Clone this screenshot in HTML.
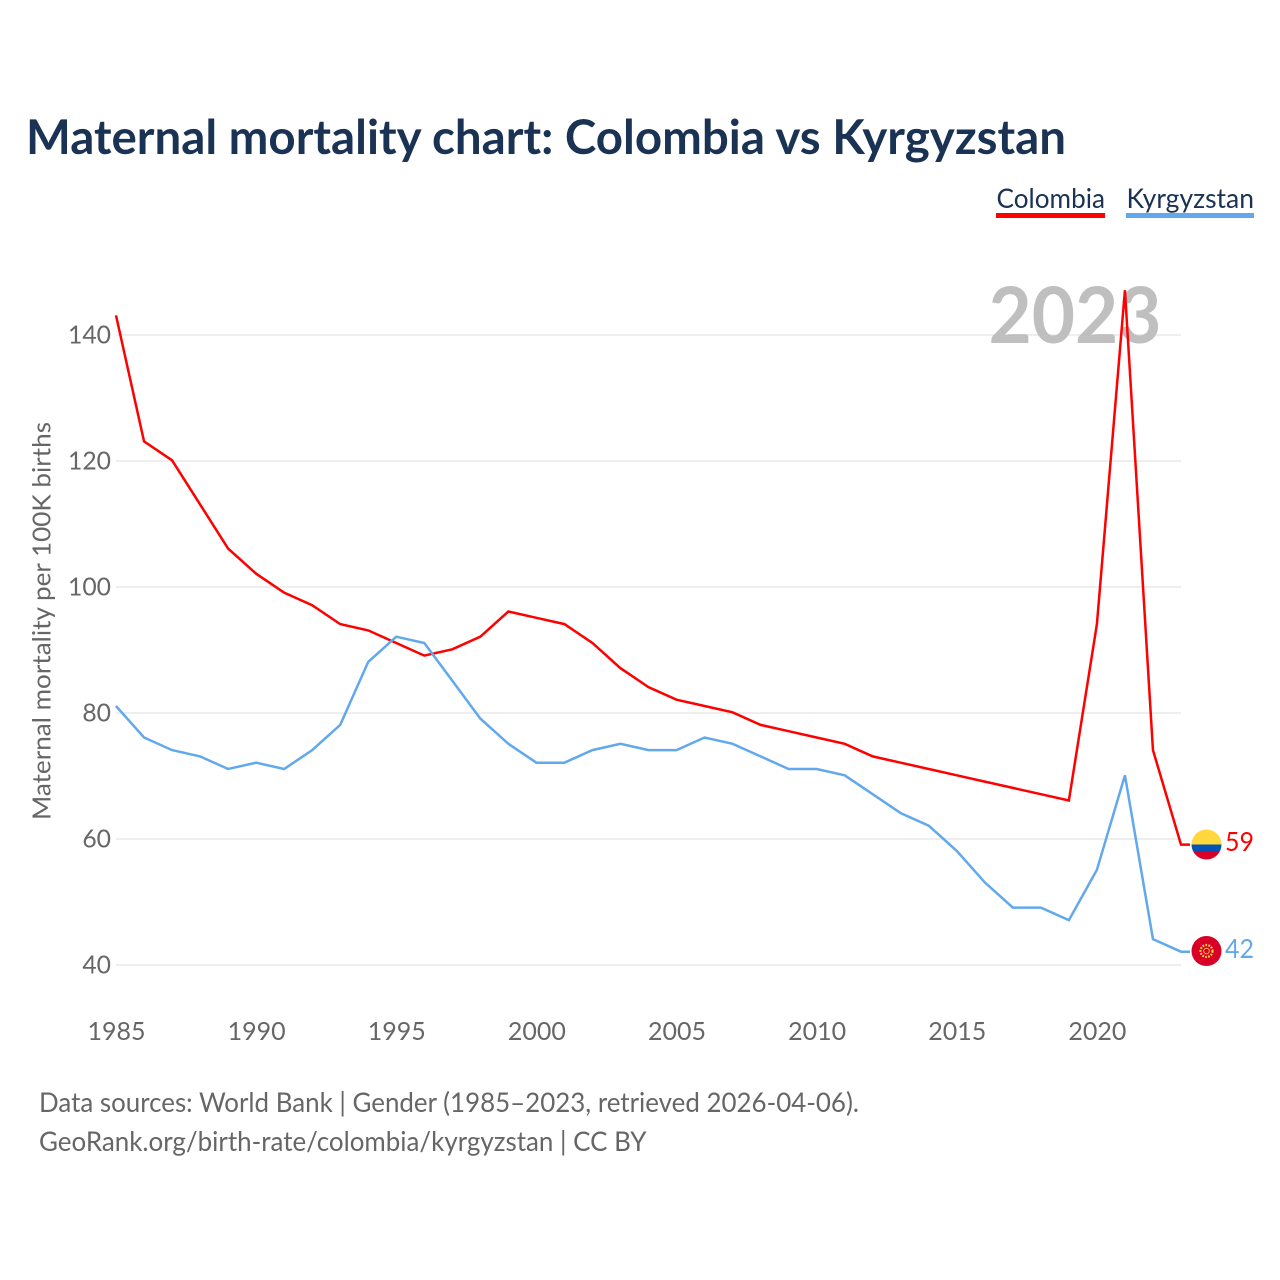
<!DOCTYPE html>
<html lang="en">
<head>
<meta charset="utf-8">
<title>Maternal mortality chart: Colombia vs Kyrgyzstan</title>
<style>
html,body{margin:0;padding:0;background:#fff;width:1280px;height:1280px;overflow:hidden}
svg{display:block}
text{font-family:"Lato","Carlito","Liberation Sans",sans-serif}
</style>
</head>
<body>
<svg id="chart" xmlns="http://www.w3.org/2000/svg" width="1280" height="1280" viewBox="0 0 1280 1280">
  <text x="26" y="154" font-size="48" font-weight="700" fill="#1a3253" textLength="1040" lengthAdjust="spacingAndGlyphs">Maternal mortality chart: Colombia vs Kyrgyzstan</text>

  <g>
    <text x="996.5" y="208" font-size="27" fill="#1a3253" textLength="108.5" lengthAdjust="spacingAndGlyphs">Colombia</text>
    <rect x="996" y="213" width="109" height="5" fill="#ff0000"/>
  </g>
  <g>
    <text x="1126.5" y="208" font-size="27" fill="#1a3253" textLength="127.5" lengthAdjust="spacingAndGlyphs">Kyrgyzstan</text>
    <rect x="1126" y="213" width="128" height="5" fill="#62a8ec"/>
  </g>

  <g id="grid"></g>
  <text x="988.5" y="343" font-size="78" font-weight="700" fill="#bfbfbf" textLength="173" lengthAdjust="spacingAndGlyphs">2023</text>
  <g id="yticks"></g>
  <g id="xticks"></g>
  <text transform="translate(50.5 820) rotate(-90)" font-size="25" fill="#666666" textLength="398" lengthAdjust="spacingAndGlyphs">Maternal mortality per 100K births</text>

  <g id="series"></g>

  <g>
    <clipPath id="clip-co"><circle cx="1206.5" cy="844.5" r="15"/></clipPath>
    <g clip-path="url(#clip-co)">
      <rect x="1191" y="829" width="31" height="15.5" fill="#ffd83d"/>
      <rect x="1191" y="844.5" width="31" height="7.5" fill="#0052b4"/>
      <rect x="1191" y="852" width="31" height="8" fill="#d80027"/>
    </g>
  </g>
  <g>
    <circle cx="1206.5" cy="951" r="15" fill="#d80027"/>
    <circle cx="1206.5" cy="951" r="6" fill="none" stroke="#ffda44" stroke-width="2.2" stroke-dasharray="1.7 1.3"/>
    <circle cx="1206.5" cy="951" r="2.8" fill="none" stroke="#ffda44" stroke-width="0.8"/>
  </g>
  <text x="1225" y="851" font-size="26" fill="#ff0000" textLength="29" lengthAdjust="spacingAndGlyphs">59</text>
  <text x="1225" y="958" font-size="26" fill="#62a8ec" textLength="29" lengthAdjust="spacingAndGlyphs">42</text>

  <text x="39" y="1112" font-size="27" fill="#666666" textLength="820" lengthAdjust="spacingAndGlyphs">Data sources: World Bank | Gender (1985–2023, retrieved 2026-04-06).</text>
  <text x="39" y="1151" font-size="27" fill="#666666" textLength="607.5" lengthAdjust="spacingAndGlyphs">GeoRank.org/birth-rate/colombia/kyrgyzstan | CC BY</text>
</svg>
<script>
const startYear = 1985;
const colombiaValues = [143,123,120,113,106,102,99,97,94,93,91,89,90,92,96,95,94,91,87,84,82,81,80,78,77,76,75,73,72,71,70,69,68,67,66,94,147,74,59];
const kyrgyzstanValues = [81,76,74,73,71,72,71,74,78,88,92,91,85,79,75,72,72,74,75,74,74,76,75,73,71,71,70,67,64,62,58,53,49,49,47,55,70,44,42];
const yTickValues = [40,60,80,100,120,140];
const xTickValues = [1985,1990,1995,2000,2005,2010,2015,2020];

const NS = 'http://www.w3.org/2000/svg';
const xScale = year => 116 + (year - 1985) * 28.026;
const yScale = value => 335 + (140 - value) * 6.3;
const lineOffsetY = -0.7;
const gridGroup = document.getElementById('grid');
const yTickGroup = document.getElementById('yticks');
const xTickGroup = document.getElementById('xticks');
const seriesGroup = document.getElementById('series');

yTickValues.forEach(value => {
  const line = document.createElementNS(NS, 'line');
  
  
  line.setAttribute('x1', xScale(1985));
  line.setAttribute('x2', xScale(2023));
  line.setAttribute('y1', yScale(value));
  line.setAttribute('y2', yScale(value));
  line.setAttribute('stroke', '#e8e8e8');
  line.setAttribute('stroke-width', '1.5');
  gridGroup.appendChild(line);

  const label = document.createElementNS(NS, 'text');
  
  
  label.setAttribute('x', 111);
  label.setAttribute('y', yScale(value) + 8.5);
  label.setAttribute('text-anchor', 'end');
  label.setAttribute('font-size', '24.7');
  label.setAttribute('fill', '#666666');
  label.textContent = value;
  yTickGroup.appendChild(label);
});

xTickValues.forEach(year => {
  const label = document.createElementNS(NS, 'text');
  
  
  label.setAttribute('x', xScale(year) + 0.5);
  label.setAttribute('y', 1040);
  label.setAttribute('text-anchor', 'middle');
  label.setAttribute('font-size', '25');
  label.setAttribute('fill', '#666666');
  label.textContent = year;
  xTickGroup.appendChild(label);
});

function lineThrough(values) {
  const points = values.map((value, i) => xScale(startYear + i).toFixed(2) + ',' + (yScale(value) + lineOffsetY).toFixed(2));
  const lastY = (yScale(values[values.length - 1]) + lineOffsetY).toFixed(2);
  points.push('1190,' + lastY);
  return points.join(' ');
}

const colombiaLine = document.createElementNS(NS, 'polyline');


colombiaLine.setAttribute('points', lineThrough(colombiaValues));
colombiaLine.setAttribute('fill', 'none');
colombiaLine.setAttribute('stroke', '#ff0000');
colombiaLine.setAttribute('stroke-width', '2.5');
seriesGroup.appendChild(colombiaLine);

const kyrgyzstanLine = document.createElementNS(NS, 'polyline');


kyrgyzstanLine.setAttribute('points', lineThrough(kyrgyzstanValues));
kyrgyzstanLine.setAttribute('fill', 'none');
kyrgyzstanLine.setAttribute('stroke', '#62a8ec');
kyrgyzstanLine.setAttribute('stroke-width', '2.5');
seriesGroup.appendChild(kyrgyzstanLine);
</script>
</body>
</html>
